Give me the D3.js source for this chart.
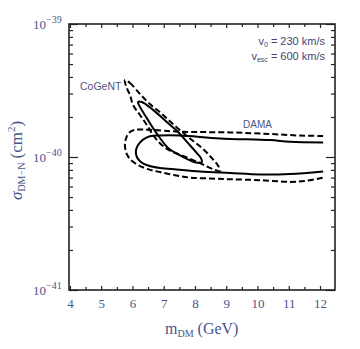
<!DOCTYPE html>
<html><head><meta charset="utf-8">
<script src="https://cdn.jsdelivr.net/npm/d3@7"></script>
<style>
html,body{margin:0;padding:0;background:#fff;}
svg{display:block;}
</style></head>
<body>
<svg id="c" width="360" height="349"></svg>
<script>
// ---- data (mass in GeV, cross-section in units of 1e-40 cm^2) ----
const xMajorTicks = [4,5,6,7,8,9,10,11,12];
const xMinorTicks = [4.5,5.5,6.5,7.5,8.5,9.5,10.5,11.5,12.5];
const yMajorTicks = [0.1, 1, 10];
const yMajorLabels = ["41","40","39"];   // exponents of 10^-N cm^2
const yMinorTicks = [0.2,0.3,0.4,0.5,0.6,0.7,0.8,0.9,2,3,4,5,6,7,8,9];

// DAMA 3-sigma (dashed, open at right edge)
const damaOuter = [[12.10,1.44],[11.36,1.45],[10.40,1.49],[9.12,1.53],[7.52,1.55],[6.56,1.60],[6.08,1.60],[5.89,1.52],[5.79,1.37],[5.76,1.21],[5.82,1.05],[5.95,0.95],[6.18,0.87],[6.50,0.81],[6.88,0.77],[7.36,0.73],[7.84,0.70],[8.48,0.69],[9.12,0.68],[10.08,0.67],[11.04,0.65],[11.52,0.66],[12.10,0.70]];
// DAMA 90% (solid, open at right edge)
const damaInner = [[12.10,1.285],[11.04,1.30],[10.40,1.34],[8.80,1.38],[7.52,1.45],[6.88,1.45],[6.56,1.43],[6.34,1.35],[6.18,1.23],[6.11,1.11],[6.14,1.00],[6.27,0.917],[6.50,0.863],[6.88,0.827],[7.42,0.805],[8.16,0.778],[9.12,0.758],[10.08,0.739],[11.04,0.745],[12.10,0.778]];
// CoGeNT 3-sigma (dashed, closed)
const cogentOuter = [[5.76,3.79],[5.92,3.60],[6.24,2.98],[6.56,2.50],[6.94,2.11],[7.26,1.80],[7.62,1.52],[7.94,1.32],[8.26,1.15],[8.54,0.98],[8.74,0.86],[8.80,0.785],[8.58,0.81],[8.16,0.90],[7.62,1.02],[7.30,1.09],[7.10,1.15],[6.88,1.27],[6.66,1.46],[6.46,1.74],[6.24,2.07],[6.02,2.46],[5.92,2.93],[5.82,3.30],[5.76,3.66]];
// CoGeNT 90% (solid, closed)
const cogentInner = [[6.18,2.59],[6.30,2.59],[6.66,2.26],[7.10,1.83],[7.46,1.54],[7.78,1.27],[8.03,1.09],[8.19,0.98],[8.22,0.917],[8.03,0.909],[7.62,1.00],[7.14,1.17],[6.88,1.39],[6.66,1.65],[6.46,1.96],[6.24,2.38]];

const svg = d3.select("#c");
const L = 69, R = 335, T = 24, B = 290;
const x = d3.scaleLinear().domain([3.97, 12.48]).range([L, R]);
const y = d3.scaleLog().domain([0.1, 10]).range([B, T]);

const labelColor = "#48568a";
const serif = "'Liberation Serif','Times New Roman',serif";
const sans = "'Liberation Sans',Arial,sans-serif";

// curves
const lineOpen = d3.line().x(d=>x(d[0])).y(d=>y(d[1])).curve(d3.curveCatmullRom.alpha(0.5));
const lineClosed = d3.line().x(d=>x(d[0])).y(d=>y(d[1])).curve(d3.curveCatmullRomClosed.alpha(0.5));
const g = svg.append("g").attr("fill","none").attr("stroke","#000").attr("stroke-width",2);
g.append("path").attr("d", lineOpen(damaOuter)).attr("stroke-dasharray","6,3");
g.append("path").attr("d", lineOpen(damaInner));
g.append("path").attr("d", lineClosed(cogentOuter)).attr("stroke-dasharray","6,3");
g.append("path").attr("d", lineClosed(cogentInner));

// axes ticks (inward)
function styleAxis(sel){ sel.select(".domain").remove(); sel.selectAll("line").attr("stroke","#222").attr("stroke-width",1.2); }
svg.append("g").attr("transform",`translate(0,${B})`)
  .call(d3.axisBottom(x).tickValues(xMajorTicks).tickSize(-4).tickPadding(9).tickFormat(d3.format("d")))
  .call(styleAxis)
  .call(s=>s.selectAll("text").attr("font-family",serif).attr("font-size",13).attr("fill",labelColor));
svg.append("g").attr("transform",`translate(0,${B})`)
  .call(d3.axisBottom(x).tickValues(xMinorTicks.filter(v=>v<12.48)).tickSize(-3).tickFormat("")).call(styleAxis);
svg.append("g").attr("transform",`translate(0,${T})`)
  .call(d3.axisTop(x).tickValues(xMajorTicks).tickSize(-4).tickFormat("")).call(styleAxis);
svg.append("g").attr("transform",`translate(0,${T})`)
  .call(d3.axisTop(x).tickValues(xMinorTicks.filter(v=>v<12.48)).tickSize(-3).tickFormat("")).call(styleAxis);
svg.append("g").attr("transform",`translate(${L},0)`)
  .call(d3.axisLeft(y).tickValues(yMajorTicks).tickSize(-9).tickFormat("")).call(styleAxis);
svg.append("g").attr("transform",`translate(${L},0)`)
  .call(d3.axisLeft(y).tickValues(yMinorTicks).tickSize(-4).tickFormat("")).call(styleAxis);
svg.append("g").attr("transform",`translate(${R},0)`)
  .call(d3.axisRight(y).tickValues(yMajorTicks).tickSize(-9).tickFormat("")).call(styleAxis);
svg.append("g").attr("transform",`translate(${R},0)`)
  .call(d3.axisRight(y).tickValues(yMinorTicks).tickSize(-4).tickFormat("")).call(styleAxis);

// frame
svg.append("rect").attr("x",L).attr("y",T).attr("width",R-L).attr("height",B-T)
  .attr("fill","none").attr("stroke","#222").attr("stroke-width",1.6);

// y tick labels 10^-N
yMajorTicks.forEach((v,i)=>{
  const t = svg.append("text").attr("x",33).attr("y",y(v)+5)
    .attr("font-family",serif).attr("font-size",13).attr("fill",labelColor);
  t.append("tspan").text("10");
  t.append("tspan").attr("dy",-6).attr("font-size",10).text("\u2212"+yMajorLabels[i]);
});

// axis titles
const xt = svg.append("text").attr("x",165).attr("y",334).attr("font-family",serif).attr("font-size",16).attr("fill",labelColor);
xt.append("tspan").text("m");
xt.append("tspan").attr("dy",3).attr("font-size",10).text("DM");
xt.append("tspan").attr("dy",-3).text(" (GeV)");

const yt = svg.append("text").attr("transform","translate(22,200) rotate(-90)")
  .attr("font-family",serif).attr("font-size",17).attr("fill",labelColor);
yt.append("tspan").attr("font-style","italic").text("\u03c3");
yt.append("tspan").attr("dy",3).attr("font-size",10).text("DM\u2212N");
yt.append("tspan").attr("dy",-3).text(" (cm");
yt.append("tspan").attr("dy",-7).attr("font-size",11).text("2");
yt.append("tspan").attr("dy",7).text(")");

// annotations
svg.append("text").attr("x",80).attr("y",90).attr("font-family",sans).attr("font-size",10.5).attr("fill","#4d5580").text("CoGeNT");
svg.append("text").attr("x",243).attr("y",128).attr("font-family",sans).attr("font-size",10).attr("fill","#4d5580").text("DAMA");
const a1 = svg.append("text").attr("x",325).attr("y",45).attr("text-anchor","end").attr("font-family",sans).attr("font-size",11).attr("fill","#3e4670");
a1.append("tspan").text("v");
a1.append("tspan").attr("dy",2).attr("font-size",7).text("0");
a1.append("tspan").attr("dy",-2).text(" = 230 km/s");
const a2 = svg.append("text").attr("x",325).attr("y",60).attr("text-anchor","end").attr("font-family",sans).attr("font-size",11).attr("fill","#3e4670");
a2.append("tspan").text("v");
a2.append("tspan").attr("dy",2).attr("font-size",7).text("esc");
a2.append("tspan").attr("dy",-2).text(" = 600 km/s");
</script>
</body></html>
